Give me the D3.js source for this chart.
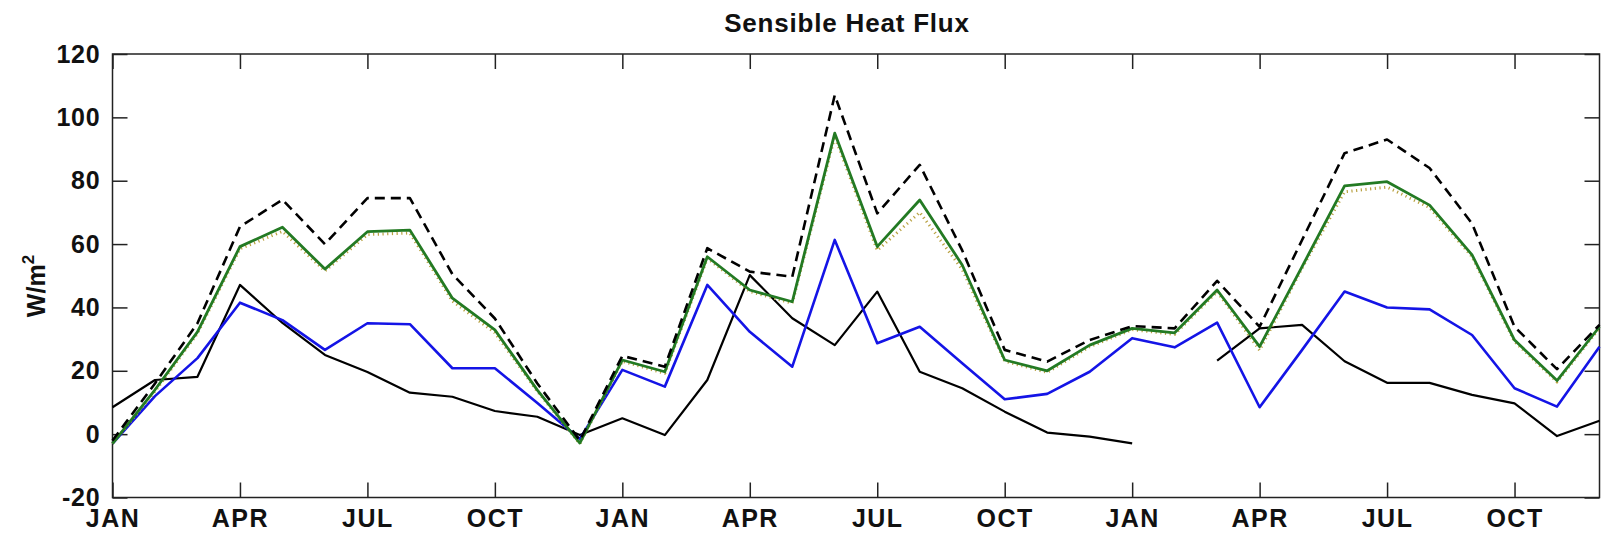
<!DOCTYPE html>
<html>
<head>
<meta charset="utf-8">
<script src="https://cdn.jsdelivr.net/npm/d3@7"></script>
<style>
  html, body { margin: 0; padding: 0; background: #fff; }
  svg { display: block; }
  text { font-family: "Liberation Sans", Arial, Helvetica, sans-serif; fill: #111; }
</style>
</head>
<body>
<svg id="chart" width="1601" height="534"></svg>
<script>
// ---- categories (36 months, three years) ----
const months = [
  "Y1-JAN","Y1-FEB","Y1-MAR","Y1-APR","Y1-MAY","Y1-JUN","Y1-JUL","Y1-AUG","Y1-SEP","Y1-OCT","Y1-NOV","Y1-DEC",
  "Y2-JAN","Y2-FEB","Y2-MAR","Y2-APR","Y2-MAY","Y2-JUN","Y2-JUL","Y2-AUG","Y2-SEP","Y2-OCT","Y2-NOV","Y2-DEC",
  "Y3-JAN","Y3-FEB","Y3-MAR","Y3-APR","Y3-MAY","Y3-JUN","Y3-JUL","Y3-AUG","Y3-SEP","Y3-OCT","Y3-NOV","Y3-DEC"
];

// ---- tick labels ----
const xTickMonths = ["Y1-JAN","Y1-APR","Y1-JUL","Y1-OCT","Y2-JAN","Y2-APR","Y2-JUL","Y2-OCT","Y3-JAN","Y3-APR","Y3-JUL","Y3-OCT"];
const xTickLabels = ["JAN","APR","JUL","OCT","JAN","APR","JUL","OCT","JAN","APR","JUL","OCT"];
const yTicks = [-20, 0, 20, 40, 60, 80, 100, 120];
const yTickLabels = ["-20", "0", "20", "40", "60", "80", "100", "120"];

// ---- series values (W/m^2) ----
const dashedBlack = [-2, 16, 35, 65.5, 74, 60, 74.5, 74.5, 50.5, 36.5, 16, -2,
                     24.7, 21.3, 58.7, 51.3, 49.7, 107, 69.7, 85, 58, 26.6, 22.9, 29.7,
                     34.1, 33.4, 48.4, 33.9, 61.3, 88.7, 93, 84, 66.5, 33.9, 20.5, 34.5];
const greenSolid  = [-3, 14, 32.3, 59.2, 65.3, 52.1, 63.9, 64.4, 42.9, 32.9, 13.9, -2.8,
                     23.4, 19.7, 56, 45.5, 41.8, 95, 59.2, 73.9, 53.4, 23.4, 20, 28.1,
                     33.4, 32, 45.5, 27.6, 52.9, 78.4, 79.7, 72.3, 56.6, 29.7, 16.9, 33.9];
const dottedOlive = [-3, 13.5, 31.8, 58.5, 64, 51.5, 63, 63.5, 42, 32, 13.5, -3,
                     23, 19.2, 55.5, 45, 41.3, 94, 58, 70, 52, 23, 19.5, 27.6,
                     33, 31.5, 45, 26.5, 52.4, 76.5, 78, 71.5, 56, 29.2, 16.5, 33.5];
const blueSolid   = [-3, 12, 24, 41.5, 36, 26.6, 35, 34.7, 20.8, 20.8, 9.8, -1.5,
                     20.3, 15, 47.1, 32.3, 21.3, 61.3, 28.7, 33.9, 22.4, 11, 12.7, 19.7,
                     30.3, 27.4, 35.2, 8.5, 26.6, 45, 40, 39.4, 31.3, 14.5, 8.7, 27.6];
const blackSolid  = [8.5, 17.1, 18.1, 47.1, 35.1, 25, 19.6, 13.1, 11.8, 7.3, 5.5, -0.3,
                     5, -0.3, 17.1, 50.2, 36.6, 28.1, 45, 19.7, 14.5, 7.1, 0.5, -0.8,
                     -2.9, null, 23.2, 33.4, 34.5, 23, 16.2, 16.2, 12.4, 9.7, -0.6, 4.2];

const titleText = "Sensible Heat Flux";

// ---- layout ----
const svg = d3.select("#chart");
const plotL = 112.5, plotR = 1599.5, plotT = 54, plotB = 497.5;

const x = d3.scalePoint().domain(months).range([plotL, plotR]).padding(0);
const y = d3.scaleLinear().domain([-20, 120]).range([plotB, plotT]);

const xLabelOf = d => xTickLabels[xTickMonths.indexOf(d)];
const yLabelOf = d => yTickLabels[yTicks.indexOf(d)];

// plot frame
svg.append("rect")
  .attr("x", plotL).attr("y", plotT)
  .attr("width", plotR - plotL).attr("height", plotB - plotT)
  .attr("fill", "none").attr("stroke", "#222").attr("stroke-width", 1.5);

// axes (inward ticks)
const gB = svg.append("g").attr("transform", `translate(0,${plotB})`)
  .call(d3.axisBottom(x).tickValues(xTickMonths).tickFormat(xLabelOf).tickSizeInner(-15).tickSizeOuter(0).tickPadding(11.5));
const gT = svg.append("g").attr("transform", `translate(0,${plotT})`)
  .call(d3.axisTop(x).tickValues(xTickMonths).tickFormat("").tickSizeInner(-15).tickSizeOuter(0));
const gL = svg.append("g").attr("transform", `translate(${plotL},0)`)
  .call(d3.axisLeft(y).tickValues(yTicks).tickFormat(yLabelOf).tickSizeInner(-15).tickSizeOuter(0).tickPadding(12));
const gR = svg.append("g").attr("transform", `translate(${plotR},0)`)
  .call(d3.axisRight(y).tickValues(yTicks).tickFormat("").tickSizeInner(-15).tickSizeOuter(0));

[gB, gT, gL, gR].forEach(g => {
  g.select(".domain").remove();
  g.selectAll(".tick line").attr("stroke", "#222").attr("stroke-width", 1.5);
});
gB.selectAll(".tick text")
  .attr("font-size", 25).attr("font-weight", "bold").attr("letter-spacing", 1.5).attr("fill", "#111")
  .attr("font-family", "'Liberation Sans', Arial, sans-serif");
gL.selectAll(".tick text")
  .attr("font-size", 25).attr("font-weight", "bold").attr("letter-spacing", 0.8).attr("fill", "#111")
  .attr("font-family", "'Liberation Sans', Arial, sans-serif");

// series
const line = d3.line()
  .defined(d => d.v !== null)
  .x(d => x(d.m))
  .y(d => y(d.v));
const toPts = arr => months.map((m, i) => ({ m, v: arr[i] }));

const g = svg.append("g").attr("fill", "none").attr("stroke-linejoin", "round");

g.append("path").attr("d", line(toPts(blackSolid)))
  .attr("stroke", "#000").attr("stroke-width", 2.2);
g.append("path").attr("d", line(toPts(blueSolid)))
  .attr("stroke", "#1414e6").attr("stroke-width", 2.6);
g.append("path").attr("d", line(toPts(dottedOlive)))
  .attr("stroke", "#b8a040").attr("stroke-width", 3).attr("stroke-dasharray", "1.2,3.5");
g.append("path").attr("d", line(toPts(greenSolid)))
  .attr("stroke", "#237a23").attr("stroke-width", 2.8);
g.append("path").attr("d", line(toPts(dashedBlack)))
  .attr("stroke", "#000").attr("stroke-width", 2.6).attr("stroke-dasharray", "10,6");

// title
svg.append("text")
  .attr("x", 847).attr("y", 32)
  .attr("text-anchor", "middle")
  .attr("font-size", 26).attr("font-weight", "bold").attr("letter-spacing", 0.8)
  .text(titleText);

// y label W/m^2
const yl = svg.append("text")
  .attr("transform", `translate(45,286) rotate(-90)`)
  .attr("text-anchor", "middle")
  .attr("font-size", 25).attr("font-weight", "bold");
yl.append("tspan").text("W/m");
yl.append("tspan").attr("font-size", 17).attr("dy", -11).text("2");
</script>
</body>
</html>
